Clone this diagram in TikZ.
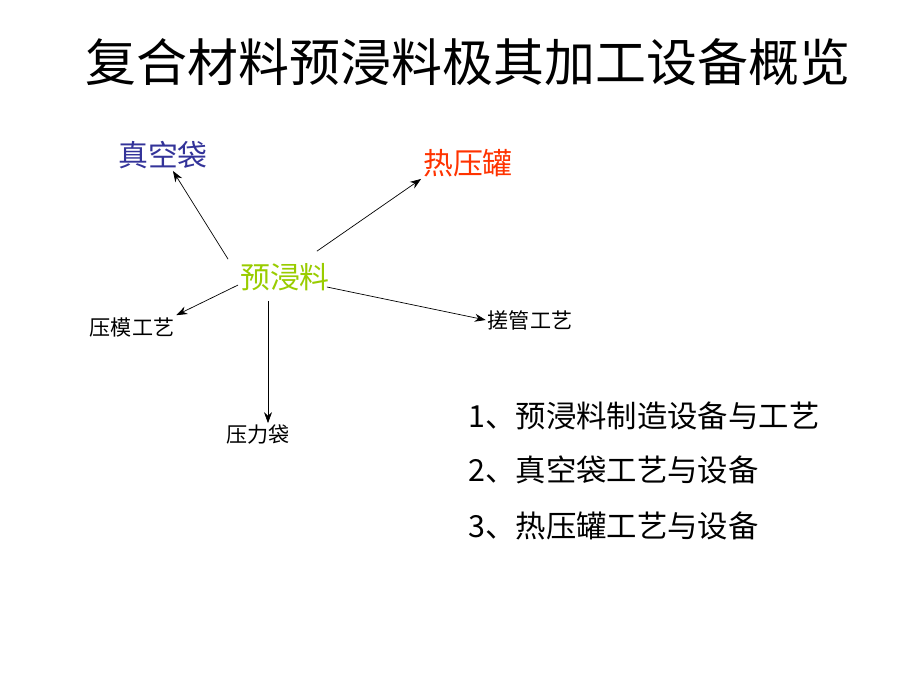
\documentclass[tikz,border=0pt]{standalone}
\usepackage{fontspec}
\newfontfamily\cjk{Noto Sans CJK SC}
\usetikzlibrary{arrows.meta}
\definecolor{vacblue}{RGB}{51,51,153}
\definecolor{hotred}{RGB}{255,51,0}
\definecolor{pregreen}{RGB}{153,204,0}
\tikzset{
	big/.style={font=\cjk\fontsize{17}{20}\selectfont, inner sep=1pt},
	small/.style={font=\cjk\fontsize{12}{14}\selectfont, inner sep=1pt},
	item/.style={font=\cjk\fontsize{17.3}{20}\selectfont, anchor=west, inner sep=0pt},
	link/.style={-{Stealth[length=2.2mm,width=1.6mm]}, thin}
}
\begin{document}
\begin{tikzpicture}[x=0.02cm,y=-0.02cm]
	\useasboundingbox (0,0) rectangle (920,690);
	\node[font=\cjk\fontsize{29}{34}\selectfont] (title) at (468,62) {复合材料预浸料极其加工设备概览};
	\node[big,text=pregreen] (pre) at (285,277) {预浸料};
	\node[big,text=vacblue] (vac) at (163,155) {真空袋};
	\node[big,text=hotred] (hot) at (468,163) {热压罐};
	\node[small] (mold) at (132,327) {压模工艺};
	\node[small] (roll) at (530,320) {搓管工艺};
	\node[small] (press) at (258,435) {压力袋};
	\draw[link] (pre.north west) ++(-10,-2) coordinate (s1) (s1) -- (vac);
	\draw[link] (pre.north east) ++(-15,-10) coordinate (s2) (s2) -- (hot.south west);
	\draw[link] (pre.west) ++(0,8) coordinate (s3) (s3) -- (mold.north east);
	\draw[link] (pre.south) ++(-17,8) coordinate (s4) (s4) -- (press.north -| s4);
	\draw[link] (pre.east) ++(-5,10) coordinate (s5) (s5) -- (roll.west);
	\node[item] (l1) at (468,416) {1、预浸料制造设备与工艺};
	\node[item] (l2) at (468,470) {2、真空袋工艺与设备};
	\node[item] (l3) at (468,526) {3、热压罐工艺与设备};
\end{tikzpicture}
\end{document}
